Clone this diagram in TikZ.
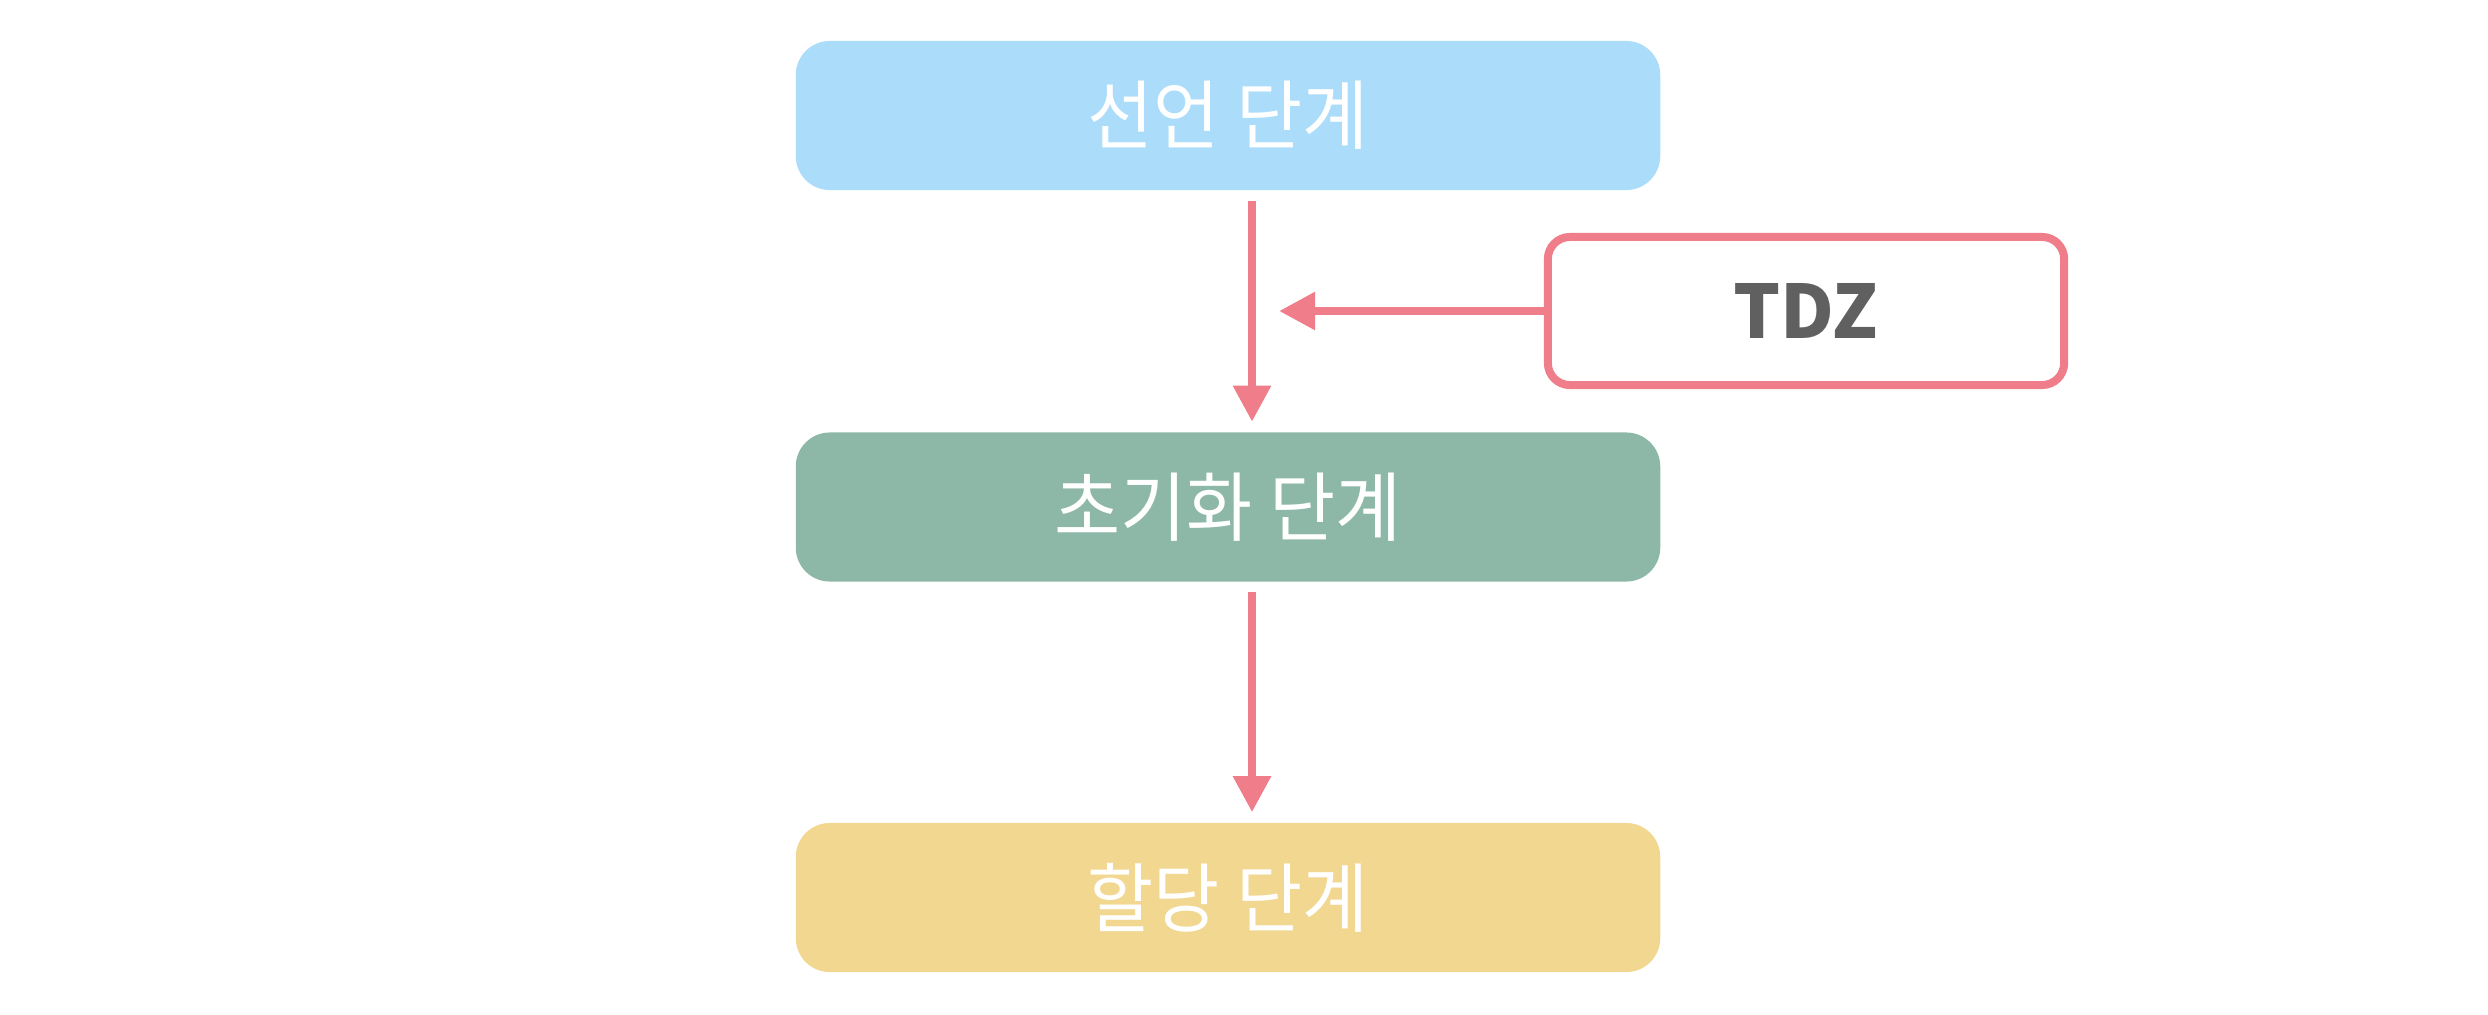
\documentclass[tikz,border=0pt]{standalone}
\usepackage{fontspec}
\newfontfamily\kr{Noto Sans CJK KR}
\newfontfamily\krn{Noto Sans CJK KR}[FakeStretch=0.95]
\usetikzlibrary{arrows.meta,calc}
\definecolor{cblue}{HTML}{ABDDFB}
\definecolor{cgreen}{HTML}{8DB8A8}
\definecolor{cyellow}{HTML}{F2D791}
\definecolor{cpink}{HTML}{EF7D8A}
\definecolor{cgrey}{HTML}{606060}
\tikzset{
  stage/.style={rectangle, rounded corners=0.34cm, inner sep=0pt, minimum width=8.64cm, minimum height=1.49cm, text=white, font=\krn\fontsize{21.5}{25}\selectfont},
  tdzbox/.style={rectangle, rounded corners=0.22cm, inner sep=0pt, minimum width=5.16cm, minimum height=1.48cm, draw=cpink, line width=0.08cm, fill=white, text=cgrey, font=\kr\bfseries\fontsize{21}{25}\selectfont},
  arr/.style={draw=cpink, line width=0.085cm, -{Triangle[length=0.36cm, width=0.36cm]}}
}
\begin{document}
\begin{tikzpicture}[x=0.01cm, y=-0.01cm]
\useasboundingbox (0,0) rectangle (2488,1014);
\node[stage, fill=cblue] (decl) at (1228,115.5) {선언 단계};
\node[stage, fill=cgreen] (init) at (1228,507) {초기화 단계};
\node[stage, fill=cyellow] (alloc) at (1228,897.5) {할당 단계};
\node[tdzbox] (tdz) at (1806,311) {TDZ};
\coordinate (ax) at (1252,0);
\coordinate (hx) at (1279,0);
\draw[arr, shorten <=0.1cm, shorten >=0.1cm] (decl.south -| ax) -- (init.north -| ax);
\draw[arr, shorten <=0.1cm, shorten >=0.1cm] (init.south -| ax) -- (alloc.north -| ax);
\draw[arr] (tdz.west) -- (tdz.west -| hx);
\end{tikzpicture}
\end{document}
